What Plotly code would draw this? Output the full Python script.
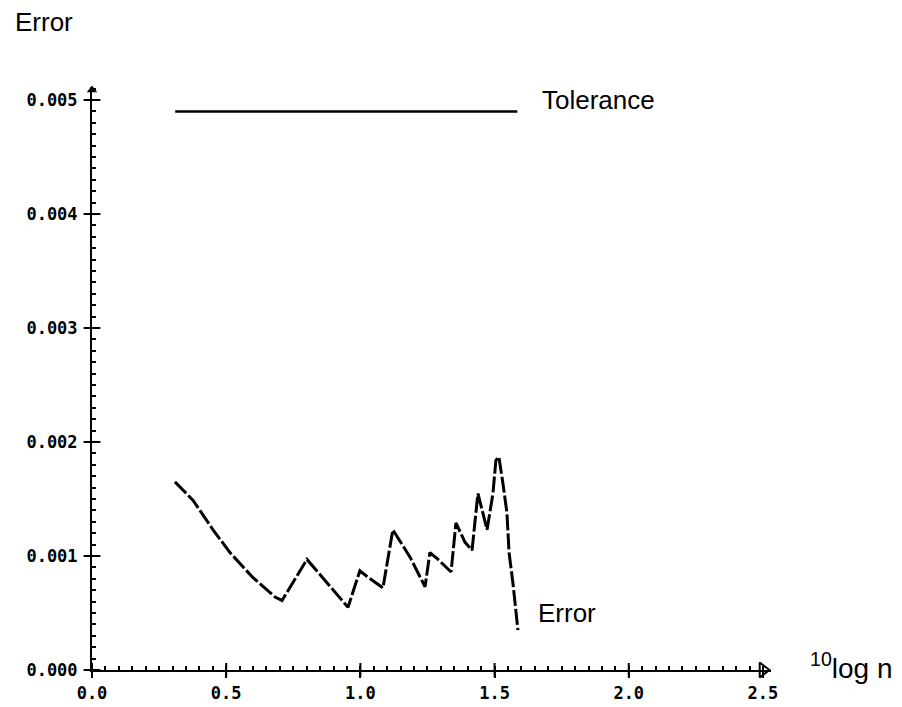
import plotly.graph_objects as go

# ---- data ----
err_x = [0.309, 0.376, 0.451, 0.514, 0.600, 0.682, 0.708, 0.801, 0.954, 0.998,
         1.025, 1.084, 1.121, 1.185, 1.241, 1.259, 1.285, 1.338, 1.356, 1.390,
         1.416, 1.438, 1.472, 1.494, 1.505, 1.516, 1.531, 1.546, 1.554, 1.569, 1.587]
err_y = [0.00165, 0.00149, 0.00123, 0.00103, 0.00081, 0.00064, 0.00061, 0.00097, 0.00055, 0.00087,
         0.00082, 0.00072, 0.00123, 0.00099, 0.00073, 0.00103, 0.00098, 0.00086, 0.00129, 0.00112,
         0.00105, 0.00155, 0.00123, 0.00155, 0.00184, 0.00187, 0.00164, 0.00138, 0.00103, 0.00075, 0.00035]
tol_x = [0.31, 1.585]
tol_y = [0.0049, 0.0049]

x_ticks = [0.0, 0.5, 1.0, 1.5, 2.0, 2.5]
x_labels = ["0.0", "0.5", "1.0", "1.5", "2.0", "2.5"]
y_ticks = [0.000, 0.001, 0.002, 0.003, 0.004, 0.005]
y_labels = ["0.000", "0.001", "0.002", "0.003", "0.004", "0.005"]

W, H = 902, 707
ML, MR, MT, MB = 92, 131, 87, 37
X_MAX = 2.53
Y_MAX = (H - MT - MB) / 114000.0

tick_font = dict(family="DejaVu Sans Mono", size=17, color="black", weight="bold")
label_font = dict(family="Liberation Sans, Arial, sans-serif", size=26, color="black")
axis_label_font = dict(family="Liberation Sans, Arial, sans-serif", size=28, color="black")

fig = go.Figure()

fig.add_trace(go.Scatter(x=tol_x, y=tol_y, mode="lines",
                         line=dict(color="black", width=2.5), hoverinfo="skip"))
fig.add_trace(go.Scatter(x=err_x, y=err_y, mode="lines",
                         line=dict(color="black", width=3, dash="16px,3px"),
                         hoverinfo="skip"))

# crossing major ticks (inside half) and axis arrow heads
fig.add_trace(go.Scatter(x=x_ticks[:-1], y=[0] * (len(x_ticks) - 1), mode="markers",
                         marker=dict(symbol="line-ns-open", size=10, color="black",
                                     line=dict(color="black", width=2)),
                         cliponaxis=False, hoverinfo="skip"))
fig.add_trace(go.Scatter(x=[0] * len(y_ticks), y=y_ticks, mode="markers",
                         marker=dict(symbol="line-ew-open", size=12, color="black",
                                     line=dict(color="black", width=2)),
                         cliponaxis=False, hoverinfo="skip"))
fig.add_trace(go.Scatter(x=[x_ticks[-1]], y=[0], mode="markers",
                         marker=dict(symbol="triangle-right-open", size=13, color="black",
                                     line=dict(color="black", width=2)),
                         cliponaxis=False, hoverinfo="skip"))
fig.add_trace(go.Scatter(x=[0], y=[Y_MAX * 0.995], mode="markers",
                         marker=dict(symbol="triangle-up", size=9, color="black"),
                         cliponaxis=False, hoverinfo="skip"))

fig.update_layout(
    width=W, height=H,
    margin=dict(l=ML, r=MR, t=MT, b=MB),
    paper_bgcolor="white", plot_bgcolor="white",
    showlegend=False,
    xaxis=dict(range=[0, X_MAX], showgrid=False, zeroline=False, automargin=False,
               showline=True, linecolor="black", linewidth=2,
               tickmode="array", tickvals=x_ticks, ticktext=x_labels,
               ticks="outside", ticklen=6, tickwidth=2, tickcolor="black",
               tickfont=tick_font, ticklabelstandoff=1,
               minor=dict(dtick=0.05, ticks="inside", ticklen=4,
                          tickwidth=2, tickcolor="black"),
               fixedrange=True),
    yaxis=dict(range=[0, Y_MAX], showgrid=False, zeroline=False, automargin=False,
               showline=True, linecolor="black", linewidth=2,
               tickmode="array", tickvals=y_ticks, ticktext=y_labels,
               ticks="outside", ticklen=6, tickwidth=2, tickcolor="black",
               tickfont=tick_font, ticklabelstandoff=3,
               minor=dict(dtick=0.0001, ticks="inside", ticklen=4,
                          tickwidth=2, tickcolor="black"),
               fixedrange=True),
    annotations=[
        dict(text="Error", xref="paper", yref="paper",
             x=(13 - ML) / (W - ML - MR), y=(H - MB - 22) / (H - MT - MB),
             xanchor="left", yanchor="middle", showarrow=False, font=label_font),
        dict(text="Tolerance", xref="paper", yref="paper",
             x=(540 - ML) / (W - ML - MR), y=(H - MB - 100) / (H - MT - MB),
             xanchor="left", yanchor="middle", showarrow=False, font=label_font),
        dict(text="Error", xref="paper", yref="paper",
             x=(536 - ML) / (W - ML - MR), y=(H - MB - 613) / (H - MT - MB),
             xanchor="left", yanchor="middle", showarrow=False, font=label_font),
        dict(text="<sup>10</sup>log n", xref="paper", yref="paper",
             x=(808 - ML) / (W - ML - MR), y=(H - MB - 666) / (H - MT - MB),
             xanchor="left", yanchor="middle", showarrow=False, font=axis_label_font),
    ],
)

fig.write_html("out.html", config={"displayModeBar": False},
               post_script="document.body.style.margin='0';document.body.style.overflow='hidden';")
